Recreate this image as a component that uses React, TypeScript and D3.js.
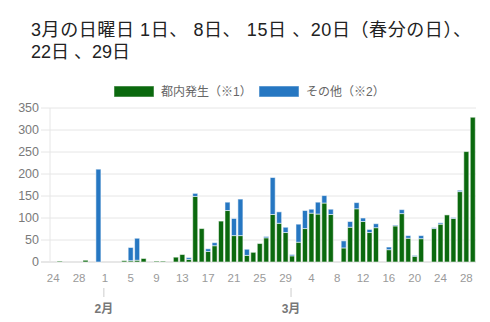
import React from "react";
import * as d3 from "d3";

// 日付（1/24〜3/29）
const startDay = new Date(2020, 0, 24);
const endDay = new Date(2020, 2, 29);
const days = d3.timeDay.range(startDay, d3.timeDay.offset(endDay, 1));

// 都内発生（※1）
const tokyoCases = [
  0, 2, 0, 0, 0, 4, 0, 0,
  0, 0, 0, 3, 3, 4, 8, 0, 2, 2, 0, 11, 17, 6, 149, 76, 24, 37, 93, 117, 60, 60, 15, 22, 42, 55, 108, 88, 67,
  14, 45, 76, 111, 109, 134, 108, 0, 32, 79, 121, 92, 67, 78, 0, 28, 82, 110, 54, 13, 53, 0, 76, 86, 107, 99, 160, 251, 329,
];
// その他（※2）
const otherCases = [
  0, 0, 0, 0, 0, 0, 0, 211,
  0, 0, 0, 0, 30, 50, 0, 0, 0, 0, 0, 0, 0, 4, 7, 0, 6, 7, 0, 19, 39, 83, 14, 0, 0, 3, 84, 26, 12,
  3, 41, 41, 9, 27, 17, 12, 0, 16, 13, 14, 8, 7, 9, 0, 6, 2, 9, 6, 2, 7, 0, 2, 3, 0, 2, 3, 0, 0,
];

const yTicks = [0, 50, 100, 150, 200, 250, 300, 350];
const seriesNames = ["都内発生（※1）", "その他（※2）"];
const colors = ["#0b690e", "#2677c2"];
const months = [new Date(2020, 1, 1), new Date(2020, 2, 1)];
const monthLabels = ["2月", "3月"];

const W = 490;
const H = 322;
const margin = { top: 108, right: 14, bottom: 60, left: 50 };
const FONT = "'Liberation Sans', 'Noto Sans CJK JP', sans-serif";

export default function App() {
  const x = d3
    .scaleTime()
    .domain([d3.timeHour.offset(startDay, -12), d3.timeHour.offset(endDay, 12)])
    .range([margin.left, W - margin.right]);
  const y = d3
    .scaleLinear()
    .domain([0, 350])
    .range([H - margin.bottom, margin.top]);

  const rows = days.map((d, i) => ({ date: d, tokyo: tokyoCases[i], other: otherCases[i] }));
  const stack = d3.stack<any>().keys(["tokyo", "other"])(rows);

  const step = x(d3.timeDay.offset(startDay, 1)) - x(startDay);
  const barW = step * 0.78;
  const xTicks = d3.timeDay.range(startDay, d3.timeDay.offset(endDay, 1), 4);

  return (
    <svg width={W} height={H} style={{ position: "absolute", left: 0, top: 0 }} fontFamily={FONT}>
      <rect width={W} height={H} fill="#fff" />
      {/* タイトル */}
      <text x={31} y={36} fontSize={18} fill="#222" textLength={440} lengthAdjust="spacing">
        3月の日曜日 1日、 8日、 15日 、20日（春分の日）、
      </text>
      <text x={31} y={57.5} fontSize={18} fill="#222">
        22日 、29日
      </text>

      {/* 凡例 */}
      {seriesNames.map((name, i) => (
        <g key={name} transform={`translate(${i === 0 ? 114 : 259},86)`}>
          <rect width={40} height={11} fill={colors[i]} stroke="#fff" strokeOpacity={0.5} />
          <text x={47} y={10} fontSize={12} fill="#666">
            {name}
          </text>
        </g>
      ))}

      {/* グリッド */}
      {yTicks.map((t) => (
        <g key={t}>
          <line
            x1={margin.left - 9}
            x2={W - margin.right}
            y1={y(t)}
            y2={y(t)}
            stroke={t === 0 ? "#cfcfcf" : "#e6e6e6"}
          />
          <text x={margin.left - 11} y={y(t)} dy="0.35em" textAnchor="end" fontSize={12.5} fill="#7a7a7a">
            {t}
          </text>
        </g>
      ))}
      <line x1={margin.left} x2={margin.left} y1={margin.top} y2={y(0)} stroke="#e6e6e6" />

      {/* 棒 */}
      {stack.map((layer, li) => (
        <g key={li} fill={colors[li]}>
          {layer.map((seg, i) =>
            seg[1] - seg[0] > 0 ? (
              <rect
                key={i}
                x={x(rows[i].date) - barW / 2}
                y={y(seg[1])}
                width={barW}
                height={y(seg[0]) - y(seg[1])}
                stroke="#fff"
                strokeOpacity={0.55}
                strokeWidth={1}
              />
            ) : null
          )}
        </g>
      ))}

      {/* x軸 */}
      {xTicks.map((d) => (
        <text
          key={+d}
          x={x(d)}
          y={278}
          dy="0.35em"
          textAnchor="middle"
          fontSize={11.5}
          fill="#9a9a9a"
        >
          {d.getDate()}
        </text>
      ))}
      {months.map((m, i) => (
        <g key={i}>
          <line x1={x(m) - 1} x2={x(m) - 1} y1={288} y2={297} stroke="#ccc" />
          <text x={x(m) - 1} y={309} dy="0.35em" textAnchor="middle" fontSize={12} fontWeight="bold" fill="#777">
            {monthLabels[i]}
          </text>
        </g>
      ))}
    </svg>
  );
}
